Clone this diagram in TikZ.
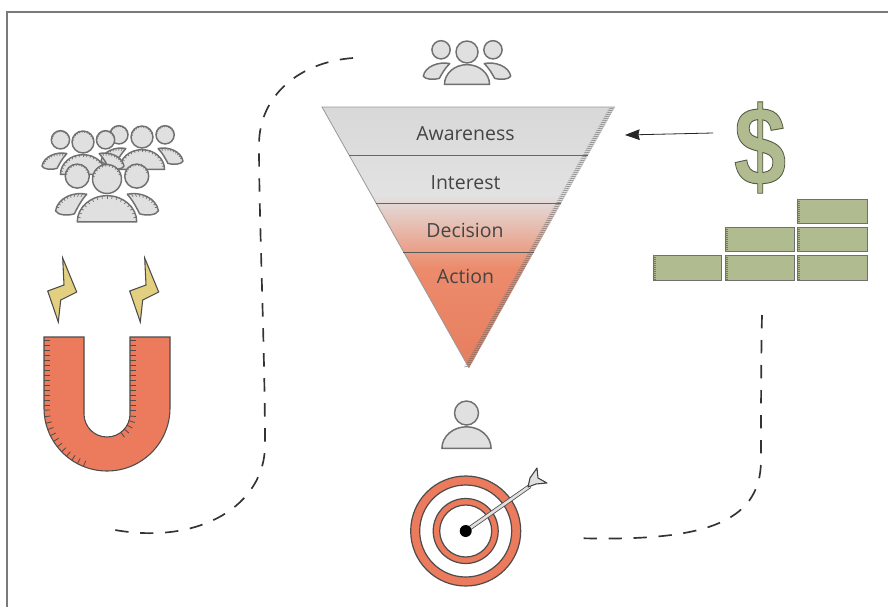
\documentclass[tikz,border=0pt]{standalone}
\usepackage{fontspec}
\usetikzlibrary{arrows.meta}
\setmainfont{Open Sans}
\newfontfamily\dollarfont{Liberation Sans}
\definecolor{framec}{HTML}{7A7A7A}
\definecolor{iconfillc}{HTML}{E0E0E0}
\definecolor{iconlinec}{HTML}{707070}
\definecolor{salmonc}{HTML}{EC7A5C}
\definecolor{funneltop}{HTML}{D8D8D8}
\definecolor{funnelmid}{HTML}{E2E2E2}
\definecolor{funnelsal}{HTML}{EC8B6C}
\definecolor{funnellow}{HTML}{E67E5E}
\definecolor{greenc}{HTML}{B0BB8F}
\definecolor{boltc}{HTML}{E3CF80}
\definecolor{dashc}{HTML}{333333}
\definecolor{labelc}{HTML}{444444}
\tikzset{
  iconfill/.style={fill=iconfillc},
  iconline/.style={draw=iconlinec,line width=1.1pt},
  tickmark/.style={draw=iconlinec,line width=0.5pt},
  dashline/.style={draw=dashc,line width=1.25pt,dash pattern=on 10pt off 8.75pt},
  funnellabel/.style={text=labelc,font=\fontsize{14.6}{16}\selectfont,inner sep=0pt},
  brick/.style={fill=greenc,draw=iconlinec,line width=0.6pt},
  boltshape/.style={fill=boltc,draw=black!70,line width=0.8pt,line join=miter},
  ringline/.style={draw=black!70,line width=0.9pt},
  magnettick/.style={draw=black!70,line width=0.6pt},
}
\def\tickon{1}
% head: x y r
\newcommand\personhead[3]{%
  \fill[iconfill] (#1,#2) circle (#3);
  \ifnum\tickon=1
  \foreach \a in {190,205,...,350}
    \draw[tickmark] ({#1+#3*cos(\a)},{#2+#3*sin(\a)}) -- ({#1+0.85*#3*cos(\a)},{#2+0.85*#3*sin(\a)});
  \fi
  \draw[iconline] (#1,#2) circle (#3);
}
% body in unit coordinates
\newcommand\personbody{%
  \fill[iconfill] (-2.05,2.95) arc[start angle=180,end angle=360,x radius=2.05,y radius=1.8] -- cycle;
  \ifnum\tickon=1
  \foreach \a in {190,200,...,350}
    \draw[tickmark] ({2.05*cos(\a)},{2.95+1.8*sin(\a)}) -- ({1.85*cos(\a)},{2.95+1.6*sin(\a)});
  \fi
  \draw[iconline,line join=round] (-2.05,2.95) arc[start angle=180,end angle=360,x radius=2.05,y radius=1.8] -- cycle;
}
% side shoulder, mirrored and stretched with #1
\newcommand\personside[1]{%
  \path[iconfill,iconline,line join=round] ({#1*3.55},2.2) .. controls ({#1*3.4},1.3) and ({#1*2.3},0.85) .. ({#1*1.4},1.05)
     .. controls ({#1*1.8},1.5) and ({#1*2.0},1.9) .. ({#1*2.25},2.4)
     .. controls ({#1*2.7},2.55) and ({#1*3.4},2.5) .. cycle;
  \ifnum\tickon=1
  \foreach \t in {0.1,0.2,...,0.9}{
    \pgfmathsetmacro\bx{(1-\t)^3*3.55+3*(1-\t)^2*\t*3.4+3*(1-\t)*\t^2*2.3+\t^3*1.4}
    \pgfmathsetmacro\by{(1-\t)^3*2.2+3*(1-\t)^2*\t*1.3+3*(1-\t)*\t^2*0.85+\t^3*1.05}
    \draw[tickmark] ({#1*\bx},\by) -- ({#1*(\bx+0.17*(2.4-\bx))},{\by+0.2*(2.1-\by)});
  }
  \fi
}
% group of three: x y r offset stretch
\newcommand\trio[5]{%
  \begin{scope}[shift={(#1,#2)},scale=#3]
    \personside{-#5}\personside{#5}
    \personhead{-#4}{-0.2}{0.83}
    \personhead{#4}{-0.2}{0.83}
    \personbody
    \personhead{0}{0}{1}
  \end{scope}
}
\newcommand\boltpath{(62.7,258) -- (76.7,292) -- (60.7,300) -- (58.3,322) -- (47.7,291) -- (64,285) -- cycle}
\begin{document}
\begin{tikzpicture}[x=0.75pt,y=-0.75pt]
\useasboundingbox (0,0) rectangle (888,607);
\fill[white] (0,0) rectangle (888,607);
% frame
\draw[framec,line width=0.8pt] (7,607) -- (7,12) -- (888,12);

% crowd
\trio{142}{137}{11}{2.1}{1.05}
\trio{83}{142}{11}{2.05}{1.05}
\trio{107}{179}{14.5}{2.05}{1}
% top group
\def\tickon{0}
\trio{467}{52}{11}{2.36}{1.12}
% single person
\begin{scope}[shift={(466.5,413)},scale=12]
  \personbody
  \personhead{0}{0}{1}
\end{scope}
\def\tickon{1}

% bolts
\path[boltshape] \boltpath;
\begin{scope}[shift={(82,0)}]
  \path[boltshape] \boltpath;
\end{scope}

% magnet
\path[fill=salmonc,draw=black!70,line width=0.8pt]
  (44,337) -- (44,408) arc[start angle=180,end angle=0,radius=63] -- (170,337) -- (130,337)
  -- (130,414) arc[start angle=0,end angle=180,radius=23] -- (84,337) -- cycle;
\foreach \y in {340,345,...,405}
  \draw[magnettick] (44,\y) -- (50,\y);
\foreach \a in {178,172,...,112}
  \draw[magnettick] ({107+63*cos(\a)},{408+63*sin(\a)}) -- ({107+57*cos(\a)},{408+57*sin(\a)});
\foreach \y in {340,345,...,410}
  \draw[magnettick] (130,\y) -- (136,\y);
\foreach \a in {5,17,...,60}
  \draw[magnettick] ({107+23*cos(\a)},{414+23*sin(\a)}) -- ({107+29*cos(\a)},{414+29*sin(\a)});

% funnel
\begin{scope}
  \clip (322,107) -- (615,107) -- (469,368) -- cycle;
  \shade[top color=funneltop,bottom color=funnelmid] (300,106) rectangle (640,195);
  \shade[top color=funnelmid,bottom color=funnelsal] (300,195) rectangle (640,268);
  \shade[top color=funnelsal,bottom color=funnellow] (300,268) rectangle (640,369);
\end{scope}
\foreach \y in {108,110,...,366}
  \draw[black!60,line width=0.3pt] ({615-(\y-107)*0.5594},\y) -- ({609-(\y-107)*0.5594},{\y+1});
\draw[black!40,line width=0.6pt] (615,107) -- (322,107) -- (469,368);
\draw[black!60,line width=0.7pt] (349,155) -- (588,155);
\draw[black!60,line width=0.7pt] (376,203) -- (561,203);
\draw[black!65,line width=0.7pt] (403,252) -- (534,252);
\node[funnellabel] (awareness) at (465.5,133.5) {Awareness};
\node[funnellabel] (interest) at (465.5,182.5) {Interest};
\node[funnellabel] (decision) at (465,230.5) {Decision};
\node[funnellabel] (action) at (465.5,276.5) {Action};

% dollar
\node[inner sep=0pt,xscale=0.84,transform shape] (dollar) at (760,147.5) {\color{greenc}\special{pdf:code 2 Tr 0.7 w 0.33 0.36 0.27 RG}\fontsize{84}{84}\selectfont\dollarfont\bfseries\$\special{pdf:code 0 Tr}};
\coordinate (arrowstart) at (713,133);
\coordinate (arrowend) at (625,135);
\draw[-{Stealth[length=11pt,width=8pt,inset=1pt]},black!85,line width=0.6pt] (arrowstart) -- (arrowend);

% bricks
\foreach \xa/\xb/\ya/\yb in {797/867/199/223,725/794/227/251,797/867/227/251,653/721/255/280,725/794/255/280,797/867/255/280}{
  \path[brick] (\xa,\ya) rectangle (\xb,\yb);
  \pgfmathtruncatemacro\ynext{\ya+2}
  \foreach \y in {\ya,\ynext,...,\yb}
    \draw[black!55,line width=0.25pt] (\xa,\y) -- ({\xa+3},\y);
}

% target
\path[fill=salmonc,even odd rule] (465.7,531) circle (55) circle (46);
\draw[ringline] (465.7,531) circle (55);
\draw[ringline] (465.7,531) circle (46);
\path[fill=salmonc,even odd rule] (465.7,531) circle (32.5) circle (26);
\draw[ringline] (465.7,531) circle (32.5);
\draw[ringline] (465.7,531) circle (26);
\draw[black!70,line width=3.2pt] (465.7,531) -- (530,486);
\draw[iconfillc,line width=2pt] (465.7,531) -- (530,486);
\path[fill=iconfillc,draw=black!75,line width=0.8pt,line join=round] (537,468) -- (538,478) -- (547,483) -- (536,484) -- (528,487) -- (530,478) -- cycle;
\fill[black] (465.7,531) circle (6);

% dashed journeys
\coordinate (d1a) at (353,58);
\coordinate (d1b) at (259,145);
\coordinate (d1c) at (265,445);
\coordinate (d1d) at (115,530);
\draw[dashline] (d1a) .. controls (300,62) and (259,95) .. (d1b)
  .. controls (259,220) and (265,350) .. (d1c)
  .. controls (265,505) and (200,545) .. (d1d);
\coordinate (d2a) at (762,315);
\coordinate (d2b) at (761,460);
\coordinate (d2c) at (573,538);
\draw[dashline] (d2a) .. controls (761,360) and (761,410) .. (d2b)
  .. controls (761,525) and (700,542) .. (d2c);
\end{tikzpicture}
\end{document}
